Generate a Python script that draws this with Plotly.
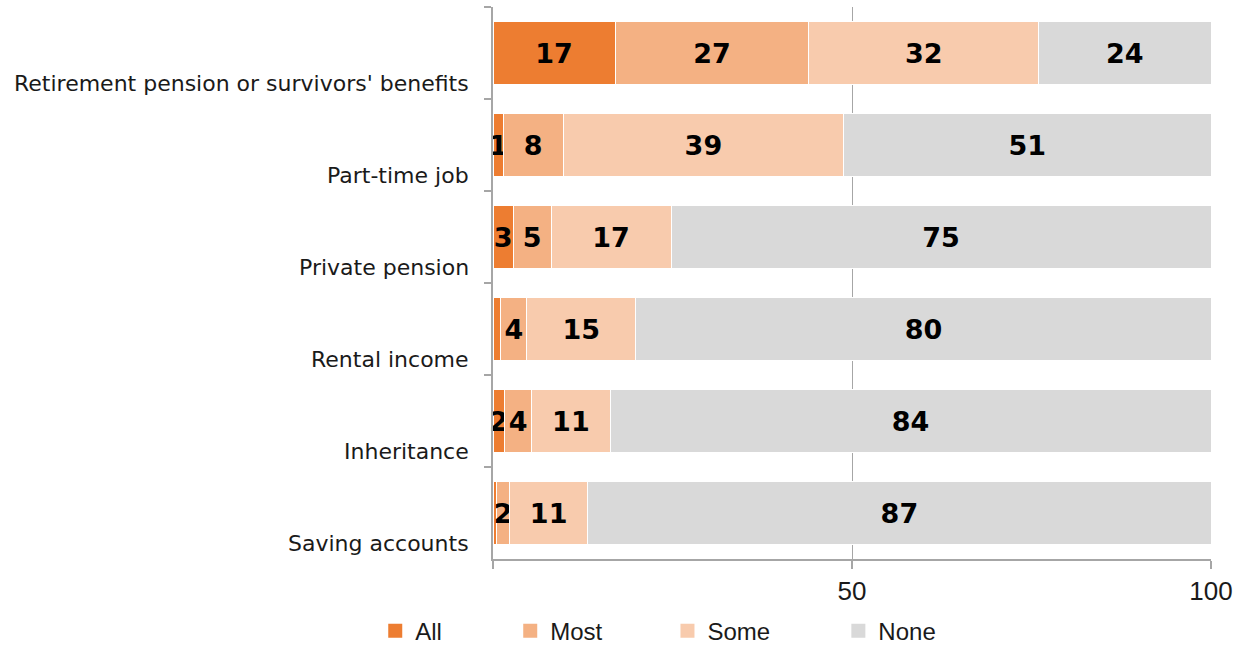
import plotly.graph_objects as go

categories = [
    "Retirement pension or survivors' benefits",
    "Part-time job",
    "Private pension",
    "Rental income",
    "Inheritance",
    "Saving accounts",
]
series_names = ["All", "Most", "Some", "None"]
# shares in percent per income source
all_vals = [17.0, 1.4, 2.8, 1.1, 1.6, 0.5]
most_vals = [27.0, 8.4, 5.3, 3.6, 3.8, 1.8]
some_vals = [32.0, 39.0, 16.7, 15.2, 10.9, 10.9]
none_vals = [24.0, 51.2, 75.2, 80.1, 83.7, 86.8]
# which "All" segments carry a value label
all_labelled = [True, True, True, False, True, False]
colors = ["#ED7D31", "#F4B183", "#F8CBAD", "#D9D9D9"]

x_ticks = [0, 50, 100]
x_tick_labels = ["", "50", "100"]

# legend key positions (paper x), one legend box per series
legend_x = [-0.164, 0.024, 0.243, 0.481]

FONT = "Liberation Sans"
CAT_FONT = "DejaVu Sans"
TEXT_COL = "#1a1a1a"


def labels(vals, shown=None):
    shown = shown or [True] * len(vals)
    return [f"{round(v):d}" if s else "" for v, s in zip(vals, shown)]


series = [
    (series_names[0], all_vals, labels(all_vals, all_labelled), colors[0]),
    (series_names[1], most_vals, labels(most_vals), colors[1]),
    (series_names[2], some_vals, labels(some_vals), colors[2]),
    (series_names[3], none_vals, labels(none_vals), colors[3]),
]

fig = go.Figure()
for i, (name, vals, txt, col) in enumerate(series):
    legend_key = "legend" if i == 0 else f"legend{i + 1}"
    fig.add_trace(go.Bar(
        name=name, y=categories, x=vals, orientation="h",
        marker=dict(color=col, line=dict(color="white", width=1)),
        text=txt, textposition="inside", insidetextanchor="middle",
        textangle=0, constraintext="none", cliponaxis=False,
        textfont=dict(family="DejaVu Sans", size=27, color="black", weight="bold"),
        hoverinfo="x+name", showlegend=False, legendgroup=name,
    ))
    # square legend key for the series
    fig.add_trace(go.Scatter(
        name=name, x=[None], y=[None], mode="markers",
        marker=dict(symbol="square", size=14, color=col, line=dict(width=0)),
        legend=legend_key, legendgroup=name, hoverinfo="skip",
    ))

# category labels sit low against each bar
for cat in categories:
    fig.add_annotation(
        x=0, y=cat, xref="paper", yref="y", text=cat, showarrow=False,
        xanchor="right", yanchor="middle", xshift=-22, yshift=-30,
        font=dict(family=CAT_FONT, size=22, color=TEXT_COL),
    )

legend_common = dict(
    orientation="h", xanchor="left", y=-0.09, yanchor="top",
    font=dict(family=FONT, size=24, color=TEXT_COL),
    bgcolor="rgba(0,0,0,0)", itemwidth=30,
)
legend_layout = {}
for i, lx in enumerate(legend_x):
    key = "legend" if i == 0 else f"legend{i + 1}"
    legend_layout[key] = dict(x=lx, **legend_common)

fig.update_layout(
    barmode="stack",
    bargap=0.32,
    width=1245, height=646,
    margin=dict(l=493, r=34, t=7, b=87, autoexpand=False),
    plot_bgcolor="white", paper_bgcolor="white",
    showlegend=True,
    xaxis=dict(
        range=[0, 100], tickvals=x_ticks, ticktext=x_tick_labels,
        showgrid=True, gridcolor="#A6A6A6", gridwidth=1,
        showline=True, linecolor="#A6A6A6", linewidth=2,
        ticks="outside", ticklen=8, tickcolor="#A6A6A6", tickwidth=2,
        automargin=False,
        tickfont=dict(family=FONT, size=26, color=TEXT_COL),
        zeroline=False, fixedrange=True,
    ),
    yaxis=dict(
        range=[len(categories) - 0.5, -0.5], showticklabels=False,
        showline=True, linecolor="#A6A6A6", linewidth=2,
        ticks="outside", ticklen=7, tickcolor="#A6A6A6", tickwidth=2,
        tickson="boundaries", showgrid=False, fixedrange=True,
        automargin=False,
    ),
    **legend_layout,
)

fig.write_html("out.html")
